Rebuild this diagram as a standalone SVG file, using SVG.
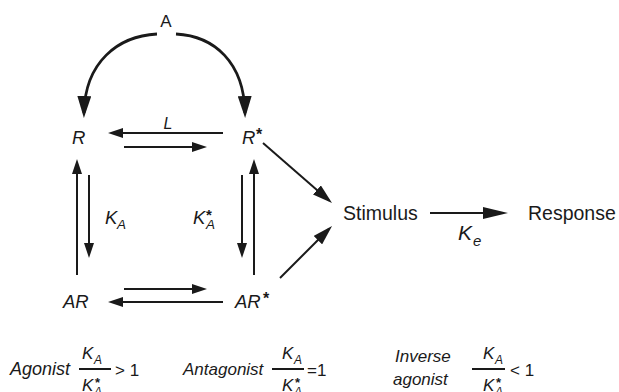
<svg xmlns="http://www.w3.org/2000/svg" width="619" height="392" viewBox="0 0 619 392">
<style>
text{font-family:"Liberation Sans",Arial,sans-serif;fill:#1a1a1a}
.it{font-style:italic}
.lbl{font-size:18.5px}
.up{font-size:19.5px}
.st{font-weight:bold}
.c{stroke:#1a1a1a;fill:none;stroke-width:2}
.big{stroke-width:2.8}
.frac{stroke:#1a1a1a;stroke-width:2}
</style>
<defs>
<marker id="hb" markerUnits="userSpaceOnUse" markerWidth="22" markerHeight="14" refX="17" refY="7" orient="auto"><path d="M0,0 L22,7 L0,14 z" fill="#1a1a1a"/></marker>
<marker id="hm" markerUnits="userSpaceOnUse" markerWidth="15" markerHeight="10" refX="11" refY="5" orient="auto"><path d="M0,0 L15,5 L0,10 z" fill="#1a1a1a"/></marker>
<marker id="hd" markerUnits="userSpaceOnUse" markerWidth="20" markerHeight="12" refX="16" refY="6" orient="auto"><path d="M0,0 L20,6 L0,12 z" fill="#1a1a1a"/></marker>
<marker id="hr" markerUnits="userSpaceOnUse" markerWidth="25" markerHeight="12" refX="21" refY="6" orient="auto"><path d="M0,0 L25,6 L0,12 z" fill="#1a1a1a"/></marker>
</defs>

<g id="connectors">
<path class="c big" d="M157,34 C118,36 85,62 84,113" marker-end="url(#hb)"/>
<path class="c big" d="M176,34 C214,36 244,62 245,113" marker-end="url(#hb)"/>
<path class="c" d="M223,133 L112,133" marker-end="url(#hm)"/>
<path class="c" d="M124,147 L203,147" marker-end="url(#hm)"/>
<path class="c" d="M77,275 L77,163" marker-end="url(#hm)"/>
<path class="c" d="M89,175 L89,254" marker-end="url(#hm)"/>
<path class="c" d="M242,175 L242,254" marker-end="url(#hm)"/>
<path class="c" d="M254,275 L254,163" marker-end="url(#hm)"/>
<path class="c" d="M124,289 L203,289" marker-end="url(#hm)"/>
<path class="c" d="M223,302 L112,302" marker-end="url(#hm)"/>
<path class="c" d="M263,143 L329,200.4" marker-end="url(#hd)"/>
<path class="c" d="M280,278 L329.2,228.8" marker-end="url(#hd)"/>
<path class="c" d="M430,213 L504,213" marker-end="url(#hr)"/>
<text class="it" x="168" y="129" font-size="16" text-anchor="middle">L</text>
<text class="it" x="105" y="224" font-size="18.5">K</text>
<text class="it" x="117" y="229" font-size="13.5">A</text>
<text class="it" x="193" y="224" font-size="18.5">K</text>
<text class="it" x="206" y="229" font-size="13.5">A</text>
<text class="st" x="206" y="220" font-size="15">*</text>
<text class="it" x="458" y="240" font-size="21">K</text>
<text class="it" x="473" y="246" font-size="15">e</text>
</g>

<g id="node-A"><text x="166" y="27" font-size="17" text-anchor="middle">A</text></g>
<g id="node-R"><text class="it lbl" x="72" y="144">R</text></g>
<g id="node-Rstar"><text class="it lbl" x="242" y="144">R</text><text class="st" x="256" y="140" font-size="16">*</text></g>
<g id="node-AR"><text class="it lbl" x="63" y="308">AR</text></g>
<g id="node-ARstar"><text class="it lbl" x="235" y="308">AR</text><text class="st" x="263" y="304" font-size="16">*</text></g>
<g id="node-Stimulus"><text class="up" x="343" y="220">Stimulus</text></g>
<g id="node-Response"><text class="up" x="528" y="220">Response</text></g>

<g id="agonist">
<text class="it" x="10" y="375" font-size="18">Agonist</text>
<text class="it" x="82" y="359" font-size="17">K</text><text class="it" x="94" y="364" font-size="12">A</text>
<line class="frac" x1="79" y1="369" x2="111" y2="369"/>
<text class="it" x="82" y="391" font-size="17">K</text><text class="st" x="95" y="387" font-size="13">*</text><text class="it" x="94" y="396" font-size="12">A</text>
<text x="115" y="376" font-size="17">&gt; 1</text>
</g>
<g id="antagonist">
<text class="it" x="183" y="375" font-size="17">Antagonist</text>
<text class="it" x="282" y="359" font-size="17">K</text><text class="it" x="294" y="364" font-size="12">A</text>
<line class="frac" x1="272" y1="369" x2="304" y2="369"/>
<text class="it" x="282" y="391" font-size="17">K</text><text class="st" x="295" y="387" font-size="13">*</text><text class="it" x="294" y="396" font-size="12">A</text>
<text x="307" y="376" font-size="17">=1</text>
</g>
<g id="inverse-agonist">
<text class="it" x="395" y="362" font-size="17">Inverse</text>
<text class="it" x="393" y="385" font-size="17">agonist</text>
<text class="it" x="483" y="359" font-size="17">K</text><text class="it" x="495" y="364" font-size="12">A</text>
<line class="frac" x1="472" y1="369" x2="505" y2="369"/>
<text class="it" x="483" y="391" font-size="17">K</text><text class="st" x="496" y="387" font-size="13">*</text><text class="it" x="495" y="396" font-size="12">A</text>
<text x="510" y="376" font-size="17">&lt; 1</text>
</g>
</svg>
